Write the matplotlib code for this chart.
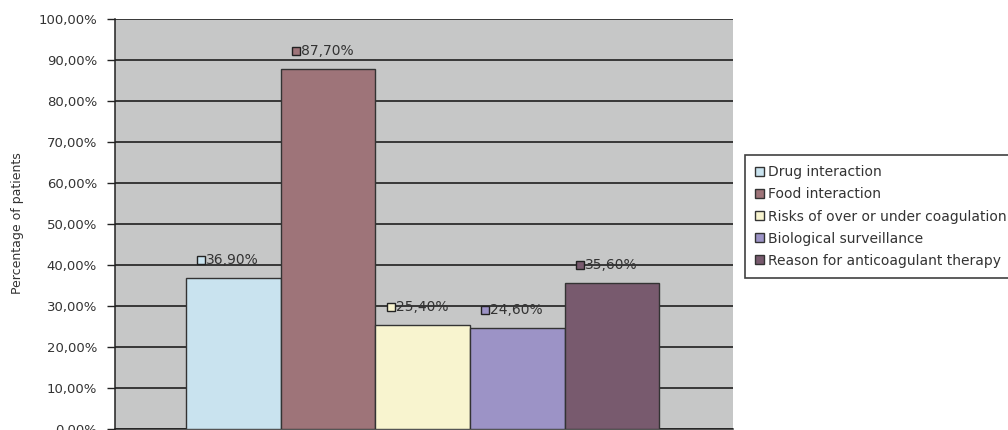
import matplotlib
matplotlib.use("Agg")
import matplotlib.pyplot as plt
from matplotlib.patches import Rectangle
import matplotlib.transforms as mtransforms

categories = ["Drug interaction", "Food interaction", "Risks of over or under coagulation",
              "Biological surveillance", "Reason for anticoagulant therapy"]
values = [36.90, 87.70, 25.40, 24.60, 35.60]
colors = ["#c9e3ef", "#9e7479", "#f8f4cf", "#9c93c6", "#785a6e"]
yticks = [0, 10, 20, 30, 40, 50, 60, 70, 80, 90, 100]

plt.rcParams['font.family'] = ['DejaVu Sans']

fig = plt.figure(figsize=(10.08, 4.30), dpi=100)
ax = fig.add_axes([115/1008, 1 - 429/430, (733 - 115)/1008, (429 - 19)/430])
ax.set_facecolor("#c6c7c7")

x = list(range(len(values)))
bars = ax.bar(x, values, width=1.0, color=colors, edgecolor="#333333", linewidth=1.0,
              label=None, zorder=3)

ax.set_xlim(-0.5 - 0.75, len(values) - 0.5 + 0.78)
ax.set_ylim(0, 100)
ax.set_yticks(yticks)
ax.set_yticklabels([f"{v:.2f}".replace(".", ",") + "%" for v in yticks], fontsize=9.5, color="#333333")
ax.set_xticks([])
ax.yaxis.grid(True, color="#111111", linewidth=1.1, zorder=1)
ax.set_axisbelow(True)
ax.tick_params(axis="y", direction="out", length=6, width=1, color="#222222", pad=7)
for s in ["top", "right"]:
    ax.spines[s].set_visible(False)
ax.spines["left"].set_color("#222222")
ax.spines["bottom"].set_color("#222222")
ax.spines["left"].set_linewidth(1.1)
ax.spines["bottom"].set_linewidth(1.1)

fig.text(18/1008, 1 - 223/430, "Percentage of patients", rotation=90, ha="center", va="center",
         fontsize=9, color="#333333")

# data labels with small legend-key squares
for xi, v, c in zip(x, values, colors):
    lab = f"{v:.2f}".replace(".", ",") + "%"
    tr_m = mtransforms.offset_copy(ax.transData, fig=fig, x=-32, y=18, units="dots")
    ax.plot([xi], [v], marker="s", markersize=6, markerfacecolor=c, markeredgecolor="#222222",
            markeredgewidth=1.0, transform=tr_m, clip_on=False, zorder=5, linestyle="none")
    tr_t = mtransforms.offset_copy(ax.transData, fig=fig, x=-27, y=18, units="dots")
    ax.text(xi, v, lab, transform=tr_t, ha="left", va="center", fontsize=10, color="#333333", zorder=5)

handles = [Rectangle((0, 0), 1, 1, facecolor=c, edgecolor="#333333", linewidth=1.0) for c in colors]
leg = fig.legend(handles, categories, loc="upper left", bbox_to_anchor=(745/1008, 1 - 155/430),
                 fontsize=10, frameon=True, fancybox=False, edgecolor="#111111",
                 handlelength=0.6, handleheight=0.6, handletextpad=0.3, labelspacing=0.58,
                 borderpad=0.75, borderaxespad=0)
leg.get_frame().set_linewidth(1.2)
for t in leg.get_texts():
    t.set_color("#333333")

fig.savefig("out.png", dpi=100)
